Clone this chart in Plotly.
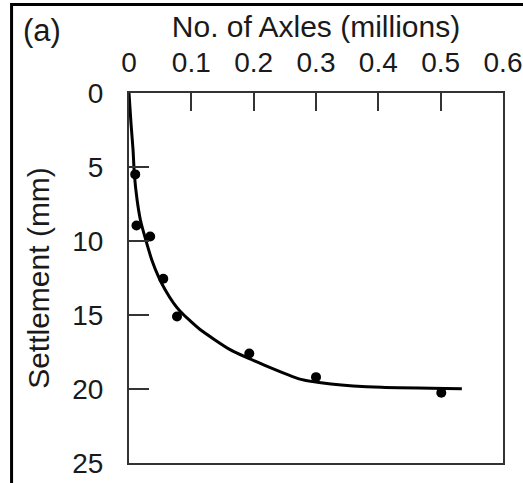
import plotly.graph_objects as go

# Measured data points (No. of axles in millions, settlement in mm)
axles_obs = [0.010, 0.012, 0.034, 0.055, 0.077, 0.193, 0.300, 0.501]
settle_obs = [5.5, 8.95, 9.7, 12.55, 15.1, 17.6, 19.2, 20.25]

# Fitted curve
axles_fit = [0, 0.0032, 0.0065, 0.0086, 0.0129, 0.0183, 0.0269, 0.0366, 0.0473,
             0.058, 0.0715, 0.082, 0.093, 0.1145, 0.163, 0.217, 0.276, 0.324,
             0.405, 0.534]
settle_fit = [0, 2.05, 3.85, 5.5, 7.2, 8.58, 9.93, 11.28, 12.41,
              13.3, 14.2, 14.75, 15.2, 16.0, 17.36, 18.38, 19.35, 19.66,
              19.89, 19.98]

x_ticks = [0, 0.1, 0.2, 0.3, 0.4, 0.5, 0.6]
x_tick_labels = ["0", "0.1", "0.2", "0.3", "0.4", "0.5", "0.6"]
y_ticks = [0, 5, 10, 15, 20, 25]
y_tick_labels = ["0", "5", "10", "15", "20", "25"]

FONT = "Liberation Sans, Arial, sans-serif"
TXT = "#1a1a1a"
FS = 28
FT = 30

fig = go.Figure()
fig.add_trace(go.Scatter(x=axles_fit, y=settle_fit, mode="lines",
                         line=dict(color="black", width=3, shape="spline", smoothing=0.5),
                         showlegend=False, hoverinfo="skip"))
fig.add_trace(go.Scatter(x=axles_obs, y=settle_obs, mode="markers",
                         marker=dict(color="black", size=10),
                         showlegend=False))

fig.update_layout(
    width=523, height=483,
    margin=dict(l=129, r=20, t=93, b=20),
    paper_bgcolor="white", plot_bgcolor="white",
    font=dict(family=FONT, size=FS, color=TXT),
    xaxis=dict(side="top", range=[0, 0.6], tickvals=x_ticks, ticktext=x_tick_labels,
               automargin=False,
               showgrid=False, zeroline=False, showline=True, mirror=True,
               linecolor="#333", linewidth=2, ticks="inside", ticklen=18,
               tickcolor="#333", tickwidth=2, ticklabelstandoff=8,
               tickfont=dict(size=FS, color=TXT),
               title=dict(text="No. of Axles (millions)", font=dict(size=FT, color=TXT), standoff=0)),
    yaxis=dict(range=[25, 0], tickvals=y_ticks, ticktext=y_tick_labels,
               automargin=False,
               showgrid=False, zeroline=False, showline=True, mirror=True,
               linecolor="#333", linewidth=2, ticks="inside", ticklen=20,
               tickcolor="#333", tickwidth=2, ticklabelstandoff=18,
               tickfont=dict(size=FS, color=TXT),
               title=dict(text="Settlement (mm)", font=dict(size=FT, color=TXT), standoff=14)),
    annotations=[dict(text="(a)", xref="paper", yref="paper", x=-0.288, y=1.168,
                      xanchor="left", yanchor="middle", showarrow=False,
                      font=dict(size=31, color=TXT, family=FONT))],
    shapes=[dict(type="rect", xref="paper", yref="paper",
                 x0=-0.314, x1=1.3, y0=-0.3, y1=1.239,
                 line=dict(color="black", width=3), fillcolor="rgba(0,0,0,0)", layer="below")],
)

fig.write_html("out.html")
